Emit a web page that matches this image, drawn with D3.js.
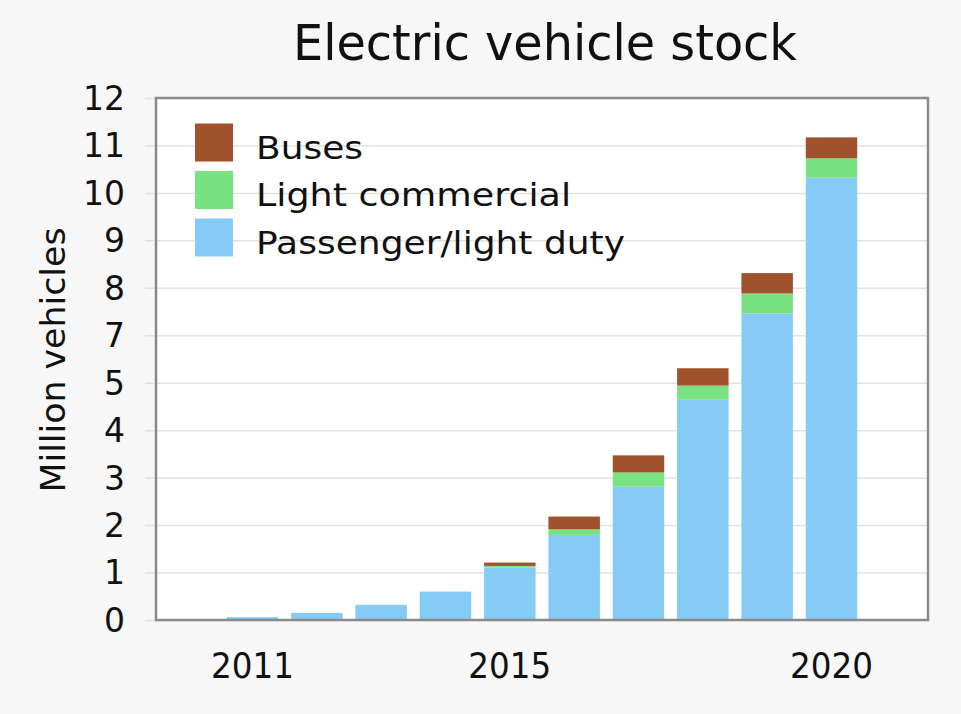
<!DOCTYPE html>
<html>
<head>
<meta charset="utf-8">
<script src="https://cdn.jsdelivr.net/npm/d3@7"></script>
<style>
  body { margin: 0; background: #f7f7f7; }
  text { font-family: "DejaVu Sans", sans-serif; fill: #111; }
</style>
</head>
<body>
<div id="chart"></div>
<script>
// data (million vehicles)
var years = [2011, 2012, 2013, 2014, 2015, 2016, 2017, 2018, 2019, 2020];
var passenger = [0.06, 0.15, 0.32, 0.60, 1.11, 1.79, 2.81, 4.64, 7.46, 10.32];
var lightCommercial = [0, 0, 0, 0, 0.03, 0.12, 0.30, 0.30, 0.42, 0.41];
var buses = [0, 0, 0, 0, 0.07, 0.27, 0.36, 0.67, 0.43, 0.44];

var bandYears = [2010, 2011, 2012, 2013, 2014, 2015, 2016, 2017, 2018, 2019, 2020, 2021];
var xTickYears = [2011, 2015, 2020];
var yTicks = [0, 1, 2, 3, 4, 5, 7, 8, 9, 10, 11, 12];

var svgWidth = 961;
var svgHeight = 714;
var plot = {left: 156, right: 928, top: 98, bottom: 620};

var svg = d3.select("#chart").append("svg")
    .attr("width", svgWidth)
    .attr("height", svgHeight);

// table for the stack
var table = years.map(function(y, i) {
    return {year: y, passenger: passenger[i], lcv: lightCommercial[i], bus: buses[i]};
});
var keys = ["passenger", "lcv", "bus"];
var colors = {passenger: "#85cbf6", lcv: "#79e384", bus: "#a0522d"};
var series = d3.stack().keys(keys)(table);

var xScale = d3.scaleBand()
    .domain(bandYears)
    .range([plot.left, plot.right])
    .paddingInner(0.2)
    .paddingOuter(0.1);

// the axis as drawn: labels evenly spaced, with 6 missing
var step = (plot.bottom - plot.top) / 11;
var yScale = d3.scaleLinear()
    .domain([0, 5, 7, 12])
    .range([plot.bottom, plot.bottom - 5 * step, plot.bottom - 6 * step, plot.top]);

// plot background
svg.append("rect")
    .attr("x", plot.left).attr("y", plot.top)
    .attr("width", plot.right - plot.left)
    .attr("height", plot.bottom - plot.top)
    .attr("fill", "#fff");

// gridlines + y labels
var yAxis = d3.axisLeft(yScale)
    .tickValues(yTicks)
    .tickSize(-(plot.right - plot.left) - 11)
    .tickPadding(20);

var gy = svg.append("g")
    .attr("transform", "translate(" + (plot.right) + ",0)");
gy.call(d3.axisLeft(yScale).tickValues(yTicks).tickSize(plot.right - plot.left + 11).tickFormat(""));
gy.select(".domain").remove();
gy.selectAll(".tick line").attr("stroke", "#e2e2e2").attr("stroke-width", 1.5);

svg.selectAll(".ylab")
    .data(yTicks)
    .enter()
    .append("text")
    .attr("class", "ylab")
    .attr("x", 125)
    .attr("y", function(d) { return yScale(d); })
    .attr("dy", "0.36em")
    .attr("text-anchor", "end")
    .style("font-size", "33px")
    .text(function(d) { return d; });

// bars
svg.append("g")
    .selectAll("g")
    .data(series)
    .enter()
    .append("g")
    .attr("fill", function(d) { return colors[d.key]; })
    .selectAll("rect")
    .data(function(d) { return d; })
    .enter()
    .append("rect")
    .attr("x", function(d) { return xScale(d.data.year); })
    .attr("y", function(d) { return yScale(d[1]); })
    .attr("width", xScale.bandwidth())
    .attr("height", function(d) { return yScale(d[0]) - yScale(d[1]); });

// frame
svg.append("rect")
    .attr("x", plot.left).attr("y", plot.top)
    .attr("width", plot.right - plot.left)
    .attr("height", plot.bottom - plot.top)
    .attr("fill", "none")
    .attr("stroke", "#8a8a8a")
    .attr("stroke-width", 2.5);

// x labels
svg.selectAll(".xlab")
    .data(xTickYears)
    .enter()
    .append("text")
    .attr("class", "xlab")
    .attr("x", function(d) { return xScale(d) + xScale.bandwidth() / 2; })
    .attr("y", 678)
    .attr("text-anchor", "middle")
    .attr("textLength", 83)
    .attr("lengthAdjust", "spacingAndGlyphs")
    .style("font-size", "35px")
    .text(function(d) { return d; });

// title
svg.append("text")
    .attr("x", 545)
    .attr("y", 60)
    .attr("text-anchor", "middle")
    .attr("textLength", 504)
    .attr("lengthAdjust", "spacingAndGlyphs")
    .style("font-size", "50px")
    .text("Electric vehicle stock");

// y title
svg.append("text")
    .attr("transform", "translate(65, 360) rotate(-90)")
    .attr("text-anchor", "middle")
    .attr("textLength", 265)
    .attr("lengthAdjust", "spacingAndGlyphs")
    .style("font-size", "33px")
    .text("Million vehicles");

// legend
var legendItems = [
    {key: "bus", label: "Buses", w: 107},
    {key: "lcv", label: "Light commercial", w: 315},
    {key: "passenger", label: "Passenger/light duty", w: 369}
];
var legend = svg.selectAll(".legend")
    .data(legendItems)
    .enter()
    .append("g")
    .attr("class", "legend")
    .attr("transform", function(d, i) { return "translate(195," + (123.5 + i * 47.5) + ")"; });

legend.append("rect")
    .attr("width", 38)
    .attr("height", 38)
    .attr("fill", function(d) { return colors[d.key]; });

legend.append("text")
    .attr("x", 61)
    .attr("y", 35)
    .attr("textLength", function(d) { return d.w; })
    .attr("lengthAdjust", "spacingAndGlyphs")
    .style("font-size", "32px")
    .text(function(d) { return d.label; });
</script>
</body>
</html>
